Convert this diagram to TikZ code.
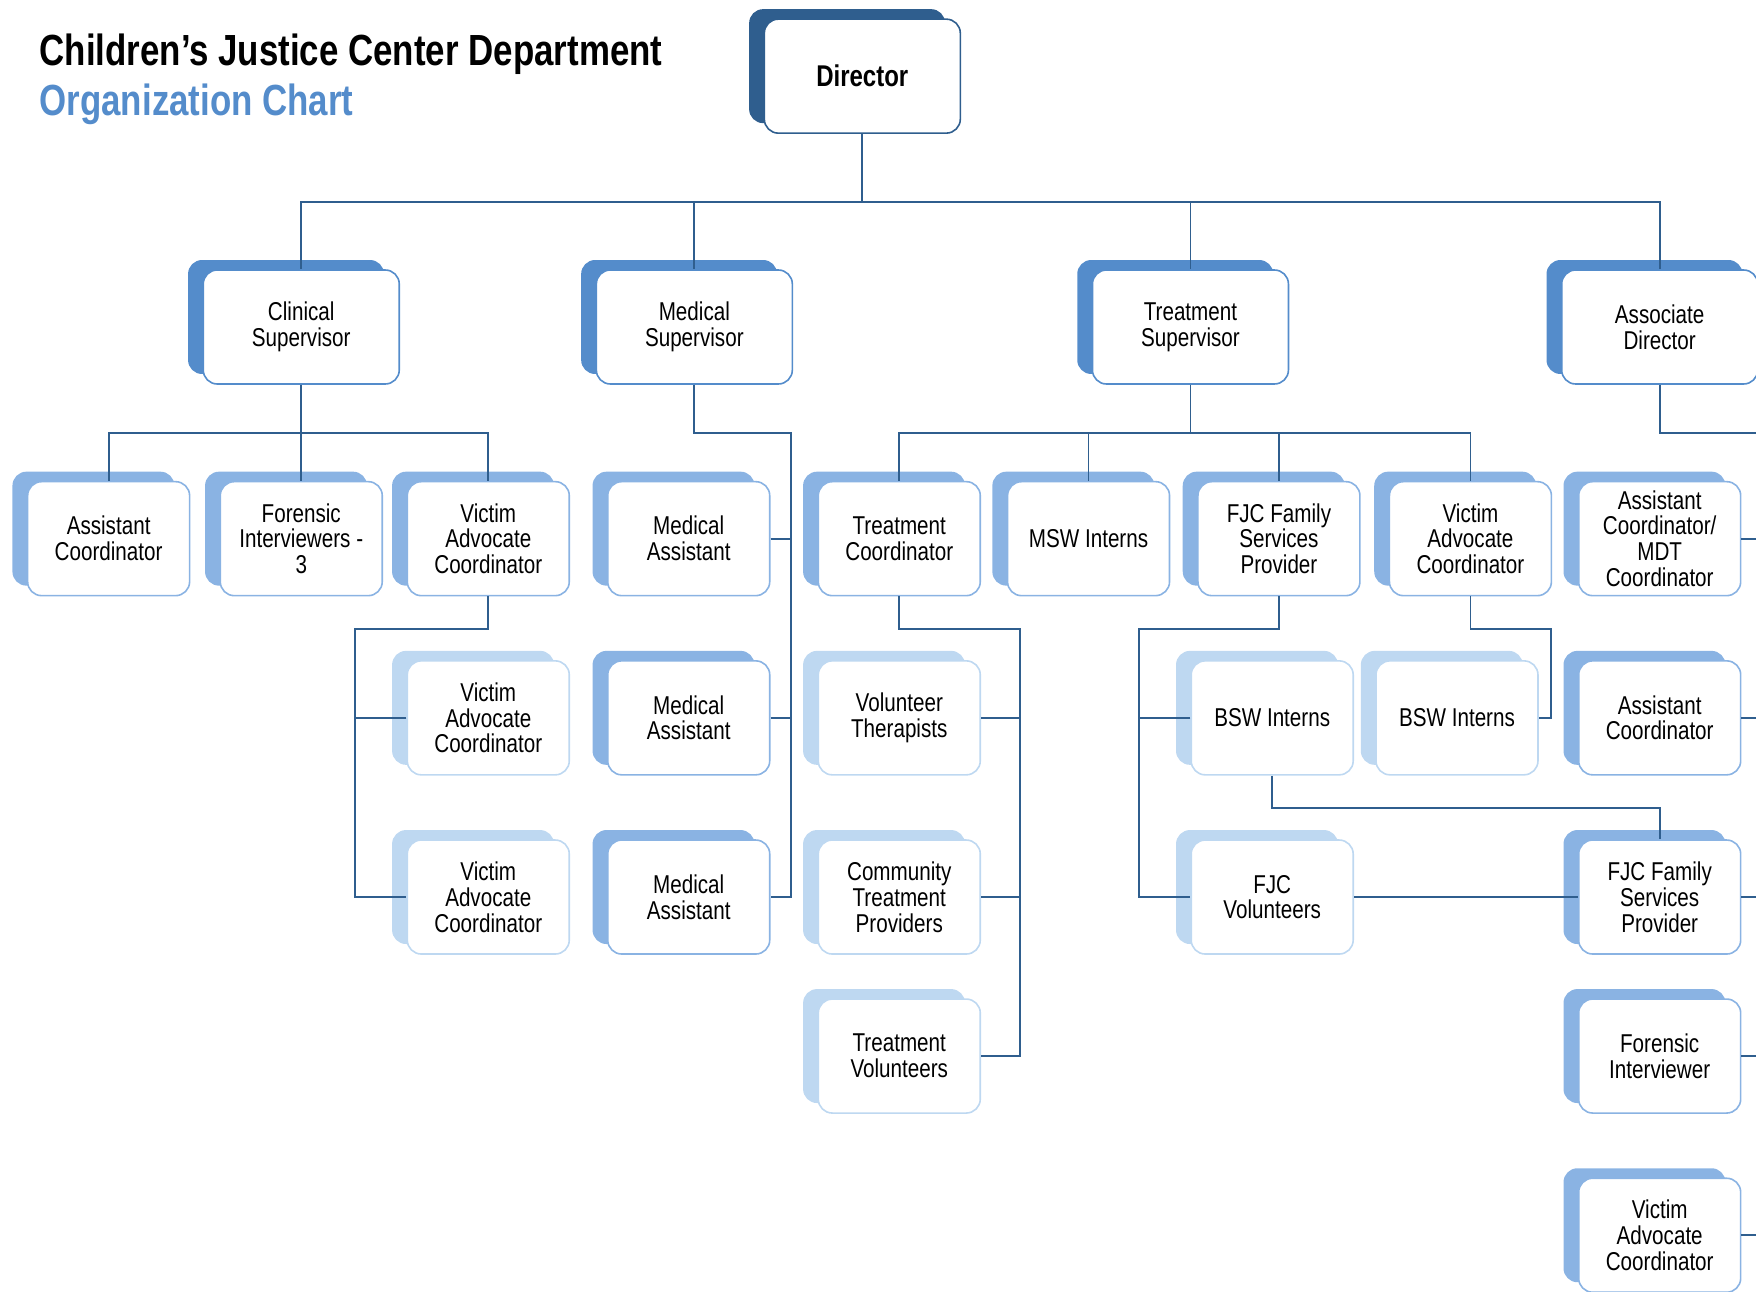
\documentclass[tikz,border=0pt]{standalone}
\usepackage{fontspec}
\setmainfont[FakeStretch=0.8]{Liberation Sans}
\usetikzlibrary{shadows,calc}
\definecolor{lineBlue}{RGB}{47,94,142}
\definecolor{supBlue}{RGB}{84,140,203}
\definecolor{staffBlue}{RGB}{138,179,227}
\definecolor{paleBlue}{RGB}{190,216,241}
\definecolor{titleBlue}{RGB}{84,140,203}
\tikzset{
  role/.style={draw, fill=white, rounded corners=7pt, line width=0.8pt, align=center, inner sep=2pt, font=\fontsize{12.9}{12.9}\selectfont},
  head/.style={role, draw=lineBlue, minimum width=98pt, minimum height=57pt, font=\fontsize{15}{17}\selectfont\bfseries,
    general shadow={fill=lineBlue, shadow xshift=-7.6pt, shadow yshift=5pt}},
  sup/.style={role, draw=supBlue, minimum width=98pt, minimum height=57pt,
    general shadow={fill=supBlue, shadow xshift=-7.6pt, shadow yshift=5pt}},
  staff/.style={role, draw=staffBlue, minimum width=81pt, minimum height=57pt,
    general shadow={fill=staffBlue, shadow xshift=-7.6pt, shadow yshift=5pt}},
  pale/.style={role, draw=paleBlue, minimum width=81pt, minimum height=57pt,
    general shadow={fill=paleBlue, shadow xshift=-7.6pt, shadow yshift=5pt}},
  link/.style={draw=lineBlue, line width=0.9pt},
  heading/.style={anchor=west, inner sep=0pt, font=\fontsize{21.8}{26}\selectfont\bfseries}
}

\begin{document}
\begin{tikzpicture}[x=0.56pt,y=-0.56pt]
  \useasboundingbox (0,0) rectangle (1568,1153);
  \clip (0,0) rectangle (1568,1153);

  \node[heading] (title) at (35,48) {Children’s Justice Center Department};
  \node[heading, text=titleBlue] (subtitle) at (35,93) {Organization Chart};

  % top levels
  \node[head] (dir) at (770,68) {Director};
  \node[sup] (clin) at (269,292) {Clinical\\Supervisor};
  \node[sup] (med) at (620,292) {Medical\\Supervisor};
  \node[sup] (treat) at (1063,292) {Treatment\\Supervisor};
  \node[sup] (assoc) at (1482,292) {Associate\\Director};

  % row 1
  \node[staff] (acoord) at (97,481) {Assistant\\Coordinator};
  \node[staff] (forensic) at (269,481) {Forensic\\Interviewers -\\3};
  \node[staff] (vacl) at (436,481) {Victim\\Advocate\\Coordinator};
  \node[staff] (ma1) at (615,481) {Medical\\Assistant};
  \node[staff] (tcoord) at (803,481) {Treatment\\Coordinator};
  \node[staff] (msw) at (972,481) {MSW Interns};
  \node[staff] (fjcfsp) at (1142,481) {FJC Family\\Services\\Provider};
  \node[staff] (vatr) at (1313,481) {Victim\\Advocate\\Coordinator};
  \node[staff] (mdt) at (1482,481) {Assistant\\Coordinator/\\MDT\\Coordinator};

  % row 2
  \node[pale] (vacl2) at (436,641) {Victim\\Advocate\\Coordinator};
  \node[staff] (ma2) at (615,641) {Medical\\Assistant};
  \node[pale] (volther) at (803,641) {Volunteer\\Therapists};
  \node[pale] (bsw1) at (1136,641) {BSW Interns};
  \node[pale] (bsw2) at (1301,641) {BSW Interns};
  \node[staff] (acoord2) at (1482,641) {Assistant\\Coordinator};

  % row 3
  \node[pale] (vacl3) at (436,801) {Victim\\Advocate\\Coordinator};
  \node[staff] (ma3) at (615,801) {Medical\\Assistant};
  \node[pale] (ctp) at (803,801) {Community\\Treatment\\Providers};
  \node[pale] (fjcvol) at (1136,801) {FJC\\Volunteers};
  \node[staff] (fjcfsp2) at (1482,801) {FJC Family\\Services\\Provider};

  % rows 4 and 5
  \node[pale] (tvol) at (803,943) {Treatment\\Volunteers};
  \node[staff] (forint) at (1482,943) {Forensic\\Interviewer};
  \node[staff] (va5) at (1482,1103) {Victim\\Advocate\\Coordinator};

  % connectors
  \draw[link] (dir.south) -- ++(0,61) coordinate (topbus);
  \foreach \n in {clin,med,treat,assoc}
    \draw[link] (topbus) -| (\n.north);
  \foreach \n in {acoord,forensic,vacl}
    \draw[link] (clin.south) -- ++(0,43) -| (\n.north);
  \draw[link] (med.south) -- ++(0,43) -| ($(ma3.east)+(18,0)$) -- (ma3.east);
  \draw[link] (ma1.east) -- ++(18,0);
  \draw[link] (ma2.east) -- ++(18,0);
  \foreach \n in {tcoord,msw,fjcfsp,vatr}
    \draw[link] (treat.south) -- ++(0,43) -| (\n.north);
  \draw[link] (assoc.south) -- ++(0,43) -| ($(va5.east)+(30,0)$) -- (va5.east);
  \foreach \n in {mdt,acoord2,fjcfsp2,forint}
    \draw[link] (\n.east) -- ++(30,0);
  \draw[link] (vacl.south) -- ++(0,29) -| ($(vacl3.west)+(-46,0)$) -- (vacl3.west);
  \draw[link] (vacl2.west) -- ++(-46,0);
  \draw[link] (tcoord.south) -- ++(0,29) -| ($(tvol.east)+(35,0)$) -- (tvol.east);
  \draw[link] (volther.east) -- ++(35,0);
  \draw[link] (ctp.east) -- ++(35,0);
  \draw[link] (fjcfsp.south) -- ++(0,29) -| ($(fjcvol.west)+(-46,0)$) -- (fjcvol.west);
  \draw[link] (bsw1.west) -- ++(-46,0);
  \draw[link] (vatr.south) -- ++(0,29) -| ($(bsw2.east)+(11,0)$) -- (bsw2.east);
  \draw[link] (bsw1.south) -- ++(0,29) -| (fjcfsp2.north);
  \draw[link] (fjcvol.east) -- (fjcfsp2.west);
\end{tikzpicture}
\end{document}
